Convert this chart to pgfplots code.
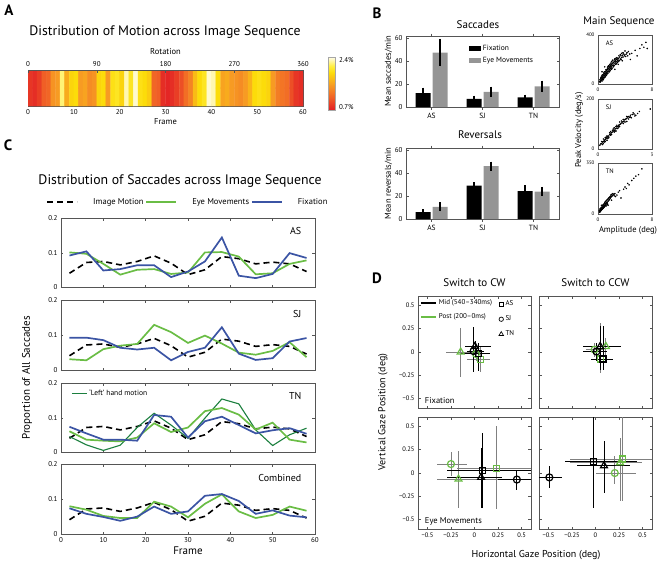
\documentclass[border=0pt]{standalone}
\usepackage{fontspec}
\setmainfont{PT Sans}
\usepackage{pgfplots}
\usepackage{pgfplotstable}
\pgfplotsset{compat=1.18}

\definecolor{cgreen}{HTML}{6ABD45}
\definecolor{cblue}{HTML}{3B54A4}
\definecolor{cdkgreen}{HTML}{1B7F3E}
\definecolor{cbar}{HTML}{959595}
\definecolor{caxis}{HTML}{555555}
\newcommand\fs[1]{\fontsize{#1}{#1}\selectfont}

\pgfplotsset{
  mat/.style={scale only axis, axis line style={caxis,line width=0.5pt},
    tick style={caxis,line width=0.4pt}, tick align=inside, major tick length=2.5pt,
    /pgf/number format/assume math mode=true, tick label style={font=\fs{6.5}}},
  sqleg/.style={legend image code/.code={\fill[##1] (0pt,-2.5pt) rectangle (12pt,2.5pt);}},
  ebar/.style={error bars/.cd, y dir=both, y explicit, error mark=none,
    error bar style={black,line width=1.1pt}, /pgfplots/.cd},
  cpan/.style={mat, width=254pt, height=69.5pt, xmin=0, xmax=60, ymin=0, ymax=0.2,
    xtick={0,10,...,60}, ytick={0,0.1,0.2}, tick label style={font=\fs{7}}},
  dpan/.style={mat, width=113pt, height=112pt, xmin=-0.6, xmax=0.6, ymin=-0.6, ymax=0.6,
    xtick={-0.5,-0.25,0,0.25,0.5}, ytick={-0.5,-0.25,0,0.25,0.5},
    xticklabels={−0.5,−0.25,0,0.25,0.5}, yticklabels={−0.5,−0.25,0,0.25,0.5}},
  mid/.style={only marks, black, line width=1.2pt, forget plot,
    error bars/.cd, x dir=both, y dir=both, x explicit, y explicit, error mark=none,
    error bar style={black,line width=0.8pt}, /pgfplots/.cd},
  post/.style={only marks, cgreen, line width=1.2pt, forget plot,
    error bars/.cd, x dir=both, y dir=both, x explicit, y explicit, error mark=none,
    error bar style={gray,line width=0.8pt}, /pgfplots/.cd},
  msq/.style={mat, width=54pt, tick label style={font=\fs{5}}, major tick length=1.5pt},
  dots/.style={only marks, mark=*, mark size=0.55pt, black},
}

% panel C: proportions of saccades per frame bin
\pgfplotstableread{
f  im    asg   asb   sjg   sjb   tng   tnb   tnl   cg    cb
2  0.041 0.101 0.092 0.031 0.093 0.061 0.074 0.046 0.080 0.074
6  0.072 0.097 0.104 0.028 0.093 0.037 0.055 0.022 0.070 0.058
10 0.075 0.068 0.049 0.060 0.086 0.034 0.037 0.006 0.052 0.049
14 0.065 0.037 0.053 0.070 0.064 0.032 0.037 0.021 0.046 0.038
18 0.075 0.051 0.064 0.075 0.059 0.043 0.034 0.072 0.046 0.050
22 0.091 0.053 0.064 0.130 0.064 0.084 0.108 0.113 0.093 0.079
26 0.070 0.039 0.030 0.109 0.028 0.059 0.103 0.079 0.079 0.058
30 0.037 0.043 0.046 0.078 0.052 0.072 0.043 0.041 0.048 0.065
34 0.051 0.101 0.075 0.099 0.064 0.119 0.090 0.099 0.087 0.110
38 0.089 0.102 0.144 0.076 0.123 0.128 0.103 0.154 0.114 0.115
42 0.083 0.089 0.034 0.050 0.047 0.109 0.079 0.140 0.065 0.095
46 0.068 0.038 0.027 0.044 0.029 0.066 0.055 0.065 0.046 0.058
50 0.073 0.041 0.039 0.055 0.034 0.086 0.064 0.020 0.055 0.068
54 0.068 0.068 0.099 0.080 0.082 0.037 0.070 0.051 0.079 0.053
58 0.046 0.078 0.085 0.037 0.092 0.029 0.054 0.070 0.067 0.048
}\saccdist

\begin{document}
\begin{tikzpicture}
\useasboundingbox (0,0) rectangle (659pt,-563pt);

% ================= A =================
\node[font=\fs{15}\bfseries] at (9pt,-10pt) {A};
\node[font=\fs{13.8}] at (165pt,-32pt) {Distribution of Motion across Image Sequence};

\begin{axis}[mat, at={(28pt,-70pt)}, anchor=north west, width=275pt, height=36pt,
  xmin=0, xmax=60, ymin=-0.5, ymax=1.5, ytick=\empty, xtick={0,10,...,60},
  tick label style={font=\fs{7}}, xlabel={Frame}, xlabel style={font=\fs{8.5}, yshift=3pt},
  colormap={heat}{rgb255(0cm)=(226,30,37); rgb255(4cm)=(240,95,38); rgb255(8cm)=(247,155,35);
    rgb255(12cm)=(252,220,10); rgb255(14cm)=(255,238,60); rgb255(17cm)=(255,252,235)},
  point meta min=0.7, point meta max=2.4,
  colorbar, colorbar style={at={(parent axis.north east)}, anchor=north west,
    xshift=17pt, yshift=13pt, scale only axis, width=7pt, height=53pt,
    ytick={0.8,2.3}, yticklabels={0.7\%,2.4\%}, yticklabel style={font=\fs{7}},
    axis line style={black!35}, major tick length=0pt}]
\addplot[matrix plot*, mesh/cols=60, point meta=explicit] coordinates {
(0.5,0)[0.85] (1.5,0)[0.8] (2.5,0)[0.9] (3.5,0)[1.1] (4.5,0)[1.15] (5.5,0)[1.45] (6.5,0)[1.5] (7.5,0)[2.2] (8.5,0)[1.6] (9.5,0)[1.85]
(10.5,0)[1.9] (11.5,0)[1.5] (12.5,0)[1.55] (13.5,0)[1.4] (14.5,0)[1.45] (15.5,0)[1.85] (16.5,0)[1.9] (17.5,0)[1.5] (18.5,0)[1.95] (19.5,0)[2.0]
(20.5,0)[1.85] (21.5,0)[2.3] (22.5,0)[2.0] (23.5,0)[2.35] (24.5,0)[1.95] (25.5,0)[1.9] (26.5,0)[1.8] (27.5,0)[1.15] (28.5,0)[1.1] (29.5,0)[0.8]
(30.5,0)[0.75] (31.5,0)[0.8] (32.5,0)[0.9] (33.5,0)[1.0] (34.5,0)[1.2] (35.5,0)[1.35] (36.5,0)[1.7] (37.5,0)[1.9] (38.5,0)[2.0] (39.5,0)[2.35]
(40.5,0)[2.3] (41.5,0)[1.9] (42.5,0)[1.55] (43.5,0)[1.6] (44.5,0)[1.5] (45.5,0)[1.45] (46.5,0)[1.4] (47.5,0)[1.5] (48.5,0)[1.65] (49.5,0)[1.9]
(50.5,0)[1.95] (51.5,0)[1.9] (52.5,0)[1.85] (53.5,0)[1.5] (54.5,0)[1.3] (55.5,0)[1.25] (56.5,0)[1.2] (57.5,0)[1.0] (58.5,0)[0.85] (59.5,0)[0.8]
(0.5,1)[0.85] (1.5,1)[0.8] (2.5,1)[0.9] (3.5,1)[1.1] (4.5,1)[1.15] (5.5,1)[1.45] (6.5,1)[1.5] (7.5,1)[2.2] (8.5,1)[1.6] (9.5,1)[1.85]
(10.5,1)[1.9] (11.5,1)[1.5] (12.5,1)[1.55] (13.5,1)[1.4] (14.5,1)[1.45] (15.5,1)[1.85] (16.5,1)[1.9] (17.5,1)[1.5] (18.5,1)[1.95] (19.5,1)[2.0]
(20.5,1)[1.85] (21.5,1)[2.3] (22.5,1)[2.0] (23.5,1)[2.35] (24.5,1)[1.95] (25.5,1)[1.9] (26.5,1)[1.8] (27.5,1)[1.15] (28.5,1)[1.1] (29.5,1)[0.8]
(30.5,1)[0.75] (31.5,1)[0.8] (32.5,1)[0.9] (33.5,1)[1.0] (34.5,1)[1.2] (35.5,1)[1.35] (36.5,1)[1.7] (37.5,1)[1.9] (38.5,1)[2.0] (39.5,1)[2.35]
(40.5,1)[2.3] (41.5,1)[1.9] (42.5,1)[1.55] (43.5,1)[1.6] (44.5,1)[1.5] (45.5,1)[1.45] (46.5,1)[1.4] (47.5,1)[1.5] (48.5,1)[1.65] (49.5,1)[1.9]
(50.5,1)[1.95] (51.5,1)[1.9] (52.5,1)[1.85] (53.5,1)[1.5] (54.5,1)[1.3] (55.5,1)[1.25] (56.5,1)[1.2] (57.5,1)[1.0] (58.5,1)[0.85] (59.5,1)[0.8]
};
\end{axis}
\begin{axis}[mat, at={(28pt,-70pt)}, anchor=north west, width=275pt, height=36pt,
  xmin=0, xmax=360, ymin=0, ymax=1, axis x line*=top, axis y line=none,
  xtick={0,90,...,360}, tick label style={font=\fs{7}},
  xlabel={Rotation}, xlabel style={font=\fs{8.5}}]
\addplot[draw=none] coordinates {(0,0.5)};
\end{axis}

% ================= B =================
\node[font=\fs{15}\bfseries] at (377pt,-13pt) {B};
\node[font=\fs{11}] at (478pt,-25pt) {Saccades};
\node[font=\fs{11}] at (480pt,-135pt) {Reversals};

\begin{axis}[mat, ybar=2pt, bar width=15pt, at={(406pt,-36pt)}, anchor=north west,
  width=153pt, height=71pt, xmin=0.5, xmax=3.5, ymin=0, ymax=62,
  xtick={1,2,3}, xticklabels={AS,SJ,TN}, ytick={0,20,40,60},
  xticklabel style={font=\fs{7.5}}, tick label style={font=\fs{7}},
  ylabel={Mean saccades/min}, ylabel style={font=\fs{8.5}, yshift=-4pt},
  legend style={at={(0.41,0.9)}, anchor=north west, draw=none, fill=none,
    inner sep=0pt, font=\fs{7.5}, row sep=1.5pt, cells={anchor=west}}]
\addplot[fill=black, draw=none, sqleg, ebar] coordinates {(1,12.2) +- (0,4.7) (2,7.2) +- (0,2.8) (3,8.4) +- (0,2.5)};
\addplot[fill=cbar, draw=none, sqleg, ebar] coordinates {(1,47.5) +- (0,12) (2,13.3) +- (0,4.5) (3,18) +- (0,5)};
\legend{Fixation, Eye Movements}
\end{axis}

\begin{axis}[mat, ybar=2pt, bar width=15pt, at={(406pt,-148pt)}, anchor=north west,
  width=153pt, height=71pt, xmin=0.5, xmax=3.5, ymin=0, ymax=62,
  xtick={1,2,3}, xticklabels={AS,SJ,TN}, ytick={0,20,40,60},
  xticklabel style={font=\fs{7.5}}, tick label style={font=\fs{7}},
  ylabel={Mean reversals/min}, ylabel style={font=\fs{8.5}, yshift=-4pt}]
\addplot[fill=black, draw=none, ebar] coordinates {(1,6) +- (0,2.5) (2,29.2) +- (0,3) (3,24.3) +- (0,5)};
\addplot[fill=cbar, draw=none, ebar] coordinates {(1,10.7) +- (0,4) (2,46.2) +- (0,4) (3,24) +- (0,4)};
\end{axis}

% Main sequence
\node[font=\fs{11}] at (619pt,-22pt) {Main Sequence};
\node[font=\fs{8.5}, rotate=90] at (579pt,-130pt) {Peak Velocity (deg/s)};
\node[font=\fs{8.5}] at (628pt,-230pt) {Amplitude (deg)};

\begin{axis}[msq, at={(598pt,-35pt)}, anchor=north west, height=49pt,
  xmin=0, xmax=8, ymin=0, ymax=400, xtick={0,8}, ytick={0,400}]
\addplot[dots] coordinates {
(0.2,20) (0.3,35) (0.35,25) (0.4,45) (0.45,30) (0.5,50) (0.55,40) (0.6,55) (0.65,35) (0.7,60)
(0.75,70) (0.8,50) (0.85,75) (0.9,65) (0.95,85) (1.0,70) (1.05,90) (1.1,80) (1.15,100) (1.2,85)
(1.25,110) (1.3,95) (1.35,120) (1.4,100) (1.45,115) (1.5,130) (1.55,105) (1.6,125) (1.65,140) (1.7,120)
(1.75,135) (1.8,150) (1.85,125) (1.9,145) (1.95,160) (2.0,140) (2.05,155) (2.1,170) (2.15,150) (2.2,165)
(2.3,175) (2.35,155) (2.4,185) (2.5,170) (2.55,190) (2.6,180) (2.7,200) (2.8,185) (2.85,205) (2.9,195)
(3.0,210) (3.1,195) (3.2,220) (3.3,205) (3.4,230) (3.5,215) (3.6,235) (3.7,220) (3.8,245) (4.0,240)
(4.1,225) (4.3,255) (4.5,265) (4.7,245) (1.0,140) (0.6,100) (2.5,120) (3.0,160) (5.0,250) (5.5,275)
(5.8,230) (6.2,290) (6.5,320) (6.8,300) (7.1,340) (7.3,290) (4.8,200) (1.3,75) (2.0,185) (3.6,190)
(0.3,15) (0.4,20) (0.5,30) (0.6,25) (0.7,45) (0.8,35) (0.9,50) (1.0,55) (1.1,60) (1.2,70)
(1.3,115) (1.4,130) (1.5,90) (1.6,145) (1.7,100) (1.8,110) (1.9,170) (2.0,120) (2.1,130) (2.2,190)
(2.3,140) (2.4,150) (2.5,205) (2.6,160) (2.7,170) (2.8,215) (2.9,175) (3.0,185) (3.1,230) (3.2,190)
(3.3,240) (3.4,200) (3.5,250) (3.7,255) (3.9,230) (4.0,270) (4.2,245) (4.4,230) (0.45,55) (0.55,65)
(0.65,75) (0.75,55) (0.85,90) (0.95,100) (1.05,75) (1.15,115) (1.25,95) (1.35,85) (1.45,140) (1.55,150)
(1.65,115) (1.75,160) (1.85,140) (1.95,130) (2.05,180) (2.15,195) (2.25,150) (2.45,200) (2.65,210) (2.75,165)};
\node[font=\fs{6.5}, anchor=west] at (rel axis cs:0.08,0.84) {AS};
\end{axis}

\begin{axis}[msq, at={(598pt,-99pt)}, anchor=north west, height=50pt,
  xmin=0, xmax=3, ymin=0, ymax=200, xtick={0,3}, ytick={0,200}]
\addplot[dots] coordinates {
(0.1,15) (0.15,20) (0.2,22) (0.25,28) (0.3,30) (0.35,35) (0.4,38) (0.45,42) (0.5,45) (0.55,50)
(0.6,52) (0.65,58) (0.7,60) (0.75,65) (0.8,68) (0.85,72) (0.9,75) (0.95,80) (1.0,82) (1.05,88)
(1.1,90) (1.15,95) (1.2,97) (1.25,100) (1.3,104) (1.35,108) (1.4,110) (1.45,112) (1.5,118) (1.55,120)
(1.6,122) (1.65,128) (1.7,130) (1.75,127) (1.8,135) (1.9,138) (2.0,140) (2.1,135) (2.2,142) (0.5,35)
(0.7,70) (1.0,72) (1.2,108) (0.3,40) (1.6,110) (2.9,160) (1.85,125) (0.4,30) (0.9,85) (1.4,102)
(0.2,30) (0.3,22) (0.4,45) (0.5,52) (0.6,45) (0.7,55) (0.8,75) (0.9,68) (1.0,90) (1.1,82)
(1.2,90) (1.3,112) (1.4,118) (1.5,108) (1.6,130) (1.7,120) (1.8,128) (1.95,145) (2.05,132) (2.3,150)
(0.25,18) (0.35,28) (0.45,48) (0.55,42) (0.65,65) (0.75,58) (0.85,80) (0.95,72) (1.05,95) (1.15,88)};
\node[font=\fs{6.5}, anchor=west] at (rel axis cs:0.08,0.84) {SJ};
\end{axis}

\begin{axis}[msq, at={(598pt,-163pt)}, anchor=north west, height=51pt,
  xmin=0, xmax=8, ymin=0, ymax=350, xtick={0,8}, ytick={0,350}]
\addplot[dots] coordinates {
(0.2,15) (0.25,25) (0.3,20) (0.35,30) (0.4,22) (0.45,35) (0.5,28) (0.55,40) (0.6,32) (0.65,45)
(0.7,38) (0.75,50) (0.8,42) (0.85,55) (0.9,48) (0.95,60) (1.0,52) (1.05,65) (1.1,58) (1.15,72)
(1.2,62) (1.25,78) (1.3,70) (1.35,82) (1.4,75) (1.5,88) (1.6,95) (1.7,100) (1.8,108) (1.9,115)
(2.0,120) (2.1,125) (2.2,130) (2.35,135) (2.5,140) (2.6,120) (1.0,80) (1.5,60) (2.0,95) (3.0,150)
(3.4,110) (3.8,170) (4.2,175) (4.6,200) (5.0,230) (5.3,245) (5.6,260) (6.0,270) (6.5,310) (0.5,60)
(0.2,25) (0.3,35) (0.4,40) (0.5,45) (0.6,55) (0.7,60) (0.8,65) (0.9,70) (1.0,75) (1.1,85)
(1.2,90) (1.3,95) (1.4,100) (1.5,105) (1.6,110) (1.7,115) (1.8,120) (1.9,130) (2.0,135) (2.2,140)
(0.25,12) (0.35,18) (0.45,25) (0.55,30) (0.65,35) (0.75,40) (0.85,45) (0.95,50) (1.2,55) (1.4,65)
(2.4,125) (2.8,130) (3.2,160) (4.0,185) (4.4,210)};
\node[font=\fs{6.5}, anchor=west] at (rel axis cs:0.08,0.84) {TN};
\end{axis}

% ================= C =================
\node[font=\fs{15}\bfseries] at (8pt,-145pt) {C};
\node[font=\fs{13.8}] at (180pt,-181pt) {Distribution of Saccades across Image Sequence};
\node[font=\fs{11}, rotate=90] at (27pt,-378pt) {Proportion of All Saccades};

\begin{axis}[cpan, at={(61pt,-218pt)}, anchor=north west, xticklabels={},
  legend columns=3, legend style={at={(0.5,1)}, anchor=south, yshift=10pt, draw=none,
    fill=none, inner sep=0pt, font=\fs{8.5},
    /tikz/every odd column/.append style={column sep=13pt}},
  legend image code/.code={\draw[#1] (0pt,0pt) -- (30pt,0pt);}]
\addplot[black, line width=1.6pt, dash pattern=on 6pt off 4pt] table[x=f,y=im] {\saccdist};
\addplot[cgreen, line width=1.7pt] table[x=f,y=asg] {\saccdist};
\addplot[cblue, line width=1.7pt] table[x=f,y=asb] {\saccdist};
\legend{Image Motion, Eye Movements, Fixation}
\node[font=\fs{10}, anchor=east] at (rel axis cs:0.96,0.81) {AS};
\end{axis}

\begin{axis}[cpan, at={(61pt,-300.5pt)}, anchor=north west, xticklabels={}]
\addplot[black, line width=1.6pt, dash pattern=on 6pt off 4pt] table[x=f,y=im] {\saccdist};
\addplot[cgreen, line width=1.7pt] table[x=f,y=sjg] {\saccdist};
\addplot[cblue, line width=1.7pt] table[x=f,y=sjb] {\saccdist};
\node[font=\fs{10}, anchor=east] at (rel axis cs:0.96,0.81) {SJ};
\end{axis}

\begin{axis}[cpan, at={(61pt,-383pt)}, anchor=north west, xticklabels={},
  legend style={at={(0.04,0.93)}, anchor=north west, draw=none, fill=none,
    inner sep=0pt, font=\fs{7.5}},
  legend image code/.code={\draw[#1] (0pt,0pt) -- (15pt,0pt);}]
\addplot[black, line width=1.6pt, dash pattern=on 6pt off 4pt, forget plot] table[x=f,y=im] {\saccdist};
\addplot[cdkgreen, line width=1.1pt] table[x=f,y=tnl] {\saccdist};
\addlegendentry{‘Left’ hand motion}
\addplot[cgreen, line width=1.7pt, forget plot] table[x=f,y=tng] {\saccdist};
\addplot[cblue, line width=1.7pt, forget plot] table[x=f,y=tnb] {\saccdist};
\node[font=\fs{10}, anchor=east] at (rel axis cs:0.96,0.81) {TN};
\end{axis}

\begin{axis}[cpan, at={(61pt,-464.5pt)}, anchor=north west,
  xlabel={Frame}, xlabel style={font=\fs{11}, yshift=3pt}]
\addplot[black, line width=1.6pt, dash pattern=on 6pt off 4pt] table[x=f,y=im] {\saccdist};
\addplot[cgreen, line width=1.7pt] table[x=f,y=cg] {\saccdist};
\addplot[cblue, line width=1.7pt] table[x=f,y=cb] {\saccdist};
\node[font=\fs{10}, anchor=east] at (rel axis cs:0.96,0.81) {Combined};
\end{axis}

% ================= D =================
\node[font=\fs{15}\bfseries] at (377pt,-278pt) {D};
\node[font=\fs{11}] at (474.5pt,-283pt) {Switch to CW};
\node[font=\fs{11}] at (595.5pt,-283pt) {Switch to CCW};
\node[font=\fs{10}, rotate=90] at (383pt,-412pt) {Vertical Gaze Position (deg)};
\node[font=\fs{10}] at (536pt,-555pt) {Horizontal Gaze Position (deg)};

% CW, fixation
\begin{axis}[dpan, at={(418pt,-296pt)}, anchor=north west, xticklabels={},
  legend style={at={(0.015,0.99)}, anchor=north west, draw=none, fill=none,
    inner sep=0pt, font=\fs{7}, row sep=3.5pt, cells={anchor=west}},
  legend image code/.code={\draw[#1] (0pt,0pt) -- (15pt,0pt);}]
\addlegendimage{black, line width=2pt}
\addlegendentry{Mid (540–340ms)}
\addlegendimage{cgreen, line width=2pt}
\addlegendentry{Post (200–0ms)}
\addplot[post, mark=triangle, mark size=4pt] coordinates {(-0.147,0) += (0.207,0.26) -= (0.153,0.27)};
\addplot[post, mark=o, mark size=3.5pt] coordinates {(0.015,-0.02) += (0.065,0.08) -= (0.065,0.08)};
\addplot[post, mark=square, mark size=3pt] coordinates {(0.06,-0.08) += (0.10,0.13) -= (0.14,0.13)};
\addplot[mid, mark=o, mark size=3.5pt] coordinates {(-0.01,0.01) += (0.11,0.26) -= (0.07,0.22)};
\addplot[mid, mark=square, mark size=3pt] coordinates {(0.04,-0.02) += (0.12,0.12) -= (0.18,0.18)};
\addplot[mid, mark=triangle, mark size=4pt] coordinates {(0.005,0.06) += (0.165,0.06) -= (0.105,0.11)};
\node[font=\fs{8.5}, anchor=south west, inner sep=0pt] at (rel axis cs:0.06,0.035) {Fixation};
\end{axis}
\begin{axis}[scale only axis, hide axis, at={(418pt,-296pt)}, anchor=north west,
  width=113pt, height=112pt, xmin=0, xmax=1, ymin=0, ymax=1,
  legend style={at={(0.715,0.975)}, anchor=north west, draw=none, fill=none,
    inner sep=0pt, font=\fs{7}, row sep=4.5pt, cells={anchor=west}},
  legend image code/.code={\draw[#1] plot coordinates {(3pt,0pt)};}]
\addlegendimage{only marks, mark=square, mark size=2pt, black, line width=0.7pt}
\addlegendentry{AS}
\addlegendimage{only marks, mark=o, mark size=2.2pt, black, line width=0.7pt}
\addlegendentry{SJ}
\addlegendimage{only marks, mark=triangle, mark size=2.6pt, black, line width=0.7pt}
\addlegendentry{TN}
\end{axis}

% CCW, fixation
\begin{axis}[dpan, at={(539pt,-296pt)}, anchor=north west, xticklabels={}, yticklabels={}]
\addplot[post, mark=o, mark size=3.5pt] coordinates {(-0.01,0.025) += (0.09,0.075) -= (0.09,0.075)};
\addplot[post, mark=triangle, mark size=4pt] coordinates {(0.11,0.06) += (0.09,0.09) -= (0.11,0.11)};
\addplot[post, mark=square, mark size=3pt] coordinates {(0.05,-0.075) += (0.10,0.385) -= (0.10,0.155)};
\addplot[mid, mark=o, mark size=3.5pt] coordinates {(0.01,0.005) += (0.11,0.095) -= (0.14,0.105)};
\addplot[mid, mark=triangle, mark size=4pt] coordinates {(0.05,0.06) += (0.22,0.22) -= (0.18,0.25)};
\addplot[mid, mark=square, mark size=3pt] coordinates {(0.08,-0.075) += (0.11,0.355) -= (0.13,0.115)};
\end{axis}

% CW, eye movements
\begin{axis}[dpan, at={(418pt,-417pt)}, anchor=north west]
\addplot[post, mark=o, mark size=3.5pt] coordinates {(-0.25,0.096) += (0.17,0.134) -= (0.15,0.126)};
\addplot[post, mark=triangle, mark size=4pt] coordinates {(-0.17,-0.065) += (0.46,0.305) -= (0.23,0.315)};
\addplot[post, mark=square, mark size=3pt] coordinates {(0.236,0.046) += (0.40,0.454) -= (0.426,0.436)};
\addplot[mid, mark=square, mark size=3pt] coordinates {(0.087,0.025) += (0.55,0.405) -= (0.377,0.395)};
\addplot[mid, mark=triangle, mark size=4pt] coordinates {(0.07,-0.047) += (0.22,0.317) -= (0.36,0.323)};
\addplot[mid, mark=o, mark size=3.5pt] coordinates {(0.45,-0.07) += (0.2,0.105) -= (0.2,0.115)};
\node[font=\fs{8.5}, anchor=south west, inner sep=0pt] at (rel axis cs:0.06,0.035) {Eye Movements};
\end{axis}

% CCW, eye movements
\begin{axis}[dpan, at={(539pt,-417pt)}, anchor=north west, yticklabels={}]
\addplot[post, mark=o, mark size=3.5pt] coordinates {(0.205,0) += (0.225,0.18) -= (0.205,0.12)};
\addplot[post, mark=triangle, mark size=4pt] coordinates {(0.26,0.11) += (0.23,0.26) -= (0.53,0.41)};
\addplot[post, mark=square, mark size=3pt] coordinates {(0.29,0.15) += (0.4,0.5) -= (0.56,0.45)};
\addplot[mid, mark=o, mark size=3.5pt] coordinates {(-0.49,-0.047) += (0.13,0.117) -= (0.13,0.113)};
\addplot[mid, mark=square, mark size=3pt] coordinates {(-0.025,0.124) += (0.465,0.5) -= (0.295,0.504)};
\addplot[mid, mark=triangle, mark size=4pt] coordinates {(0.09,0.078) += (0.28,0.262) -= (0.29,0.288)};
\end{axis}

\end{tikzpicture}
\end{document}
